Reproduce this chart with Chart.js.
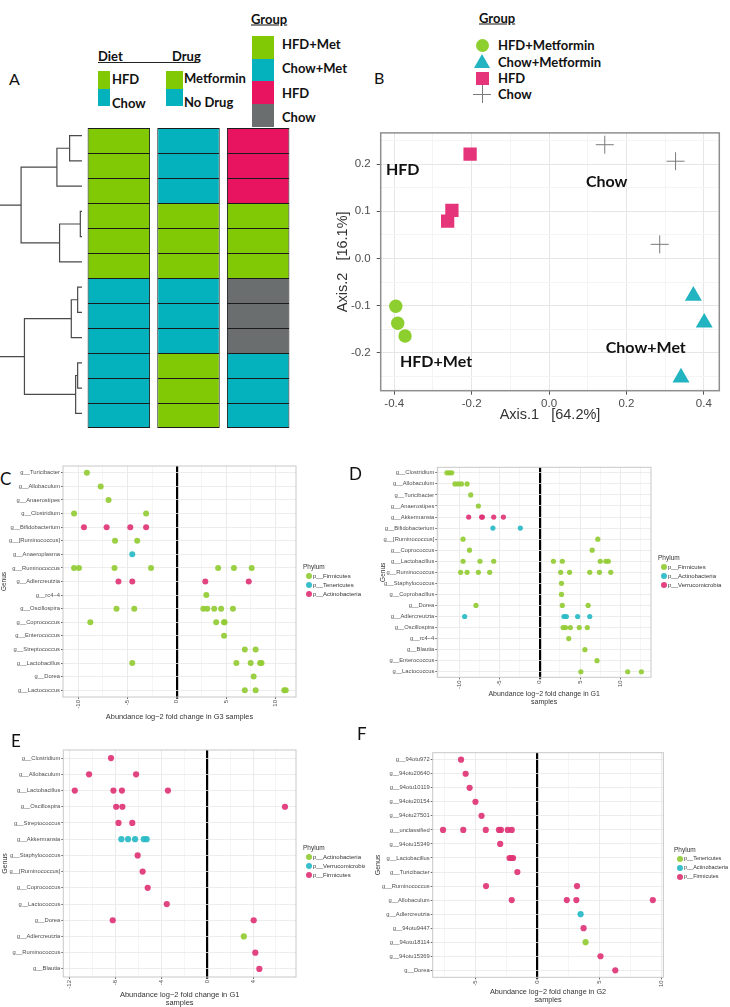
<!DOCTYPE html>
<html>
<head>
<meta charset="utf-8">
<script src="https://cdn.jsdelivr.net/npm/chart.js@4.4.1/dist/chart.umd.min.js"></script>
<style>
  body { margin: 0; background: #fff; }
  #page { position: relative; width: 730px; height: 1007px; overflow: hidden; font-family: Lato, 'Open Sans', sans-serif; color: #111; }
  .t { position: absolute; white-space: nowrap; line-height: 1; transform: translateY(-50%); }
  .sw { position: absolute; }
</style>
</head>
<body>
<div id="page"></div>
<script>
// ---------- panel A : samples, dendrogram ----------
const sampleDiet  = ['HFD','HFD','HFD','HFD','HFD','HFD','Chow','Chow','Chow','Chow','Chow','Chow'];
const sampleDrug  = ['No Drug','No Drug','No Drug','Metformin','Metformin','Metformin','No Drug','No Drug','No Drug','Metformin','Metformin','Metformin'];
const sampleGroup = ['HFD','HFD','HFD','HFD+Met','HFD+Met','HFD+Met','Chow','Chow','Chow','Chow+Met','Chow+Met','Chow+Met'];
const heatColumns = ['Diet', 'Drug', 'Group'];
// hclust style merges: negative = leaf (1 = top row), positive = earlier merge
const dendroMerge = [[-1,-2,37],[1,-3,75],[-4,-5,5],[3,-6,67],[2,4,182],[-7,-8,13],[6,-9,32],[-10,-11,13],[8,-12,19],[7,9,172],[5,10,260]];

const GREEN = '#80c904', CYAN = '#03b2bd', PINK = '#e8145f', GREY = '#6b6e6e';
const dietColor  = { 'HFD': GREEN, 'Chow': CYAN };
const drugColor  = { 'Metformin': GREEN, 'No Drug': CYAN };
const groupColor = { 'HFD+Met': GREEN, 'Chow+Met': CYAN, 'HFD': PINK, 'Chow': GREY };

// ---------- panel B : PCoA ----------
const hfdMetAxis1  = [-0.396, -0.391, -0.372];
const hfdMetAxis2  = [-0.101, -0.137, -0.164];
const chowMetAxis1 = [0.373, 0.401, 0.341];
const chowMetAxis2 = [-0.079, -0.136, -0.252];
const hfdAxis1     = [-0.204, -0.251, -0.262];
const hfdAxis2     = [0.221, 0.102, 0.079];
const chowAxis1    = [0.144, 0.327, 0.286];
const chowAxis2    = [0.241, 0.206, 0.030];
const pcoaGroups   = ['HFD+Metformin', 'Chow+Metformin', 'HFD', 'Chow'];
const pcoaLabelText = ['HFD', 'Chow', 'HFD+Met', 'Chow+Met'];
const pcoaLabelX    = [-0.378, 0.149, -0.292, 0.25];
const pcoaLabelY    = [0.187, 0.163, -0.219, -0.19];

// ---------- panel C : G3 ----------
const genusC = ['g__Turicibacter','g__Allobaculum','g__Anaerostipes','g__Clostridium','g__Bifidobacterium','g__[Ruminococcus]','g__Anaeroplasma','g__Ruminococcus','g__Adlercreutzia','g__rc4−4','g__Oscillospira','g__Coprococcus','g__Enterococcus','g__Streptococcus','g__Lactobacillus','g__Dorea','g__Lactococcus'];
const firmicutesC = [['g__Turicibacter',-9.1],['g__Allobaculum',-7.7],['g__Anaerostipes',-6.9],['g__Clostridium',-10.4],['g__Clostridium',-3.1],
  ['g__[Ruminococcus]',-6.25],['g__[Ruminococcus]',-4.0],
  ['g__Ruminococcus',-10.4],['g__Ruminococcus',-9.9],['g__Ruminococcus',-6.3],['g__Ruminococcus',-2.6],['g__Ruminococcus',4.2],['g__Ruminococcus',5.8],['g__Ruminococcus',7.6],
  ['g__rc4−4',3.0],
  ['g__Oscillospira',-6.1],['g__Oscillospira',-4.3],['g__Oscillospira',2.7],['g__Oscillospira',3.1],['g__Oscillospira',3.8],['g__Oscillospira',4.5],['g__Oscillospira',5.7],
  ['g__Coprococcus',-8.75],['g__Coprococcus',4.0],['g__Coprococcus',4.8],['g__Coprococcus',4.85],
  ['g__Enterococcus',4.8],['g__Streptococcus',6.9],['g__Streptococcus',8.0],
  ['g__Lactobacillus',-4.5],['g__Lactobacillus',6.05],['g__Lactobacillus',7.5],['g__Lactobacillus',8.45],['g__Lactobacillus',8.6],
  ['g__Dorea',7.8],['g__Lactococcus',6.9],['g__Lactococcus',8.0],['g__Lactococcus',10.9],['g__Lactococcus',11.05]];
const tenericutesC = [['g__Anaeroplasma',-4.5]];
const actinobacteriaC = [['g__Bifidobacterium',-9.4],['g__Bifidobacterium',-7.1],['g__Bifidobacterium',-4.7],['g__Bifidobacterium',-3.1],
  ['g__Adlercreutzia',-5.9],['g__Adlercreutzia',-4.5],['g__Adlercreutzia',2.9],['g__Adlercreutzia',7.3]];

// ---------- panel D : G1 ----------
const genusD = ['g__Clostridium','g__Allobaculum','g__Turicibacter','g__Anaerostipes','g__Akkermansia','g__Bifidobacterium','g__[Ruminococcus]','g__Coprococcus','g__Lactobacillus','g__Ruminococcus','g__Staphylococcus','g__Coprobacillus','g__Dorea','g__Adlercreutzia','g__Oscillospira','g__rc4−4','g__Blautia','g__Enterococcus','g__Lactococcus'];
const firmicutesD = [['g__Clostridium',-11.5],['g__Clostridium',-11.2],['g__Clostridium',-10.9],
  ['g__Allobaculum',-10.5],['g__Allobaculum',-10.1],['g__Allobaculum',-9.7],['g__Allobaculum',-9.0],
  ['g__Turicibacter',-8.55],['g__Anaerostipes',-7.6],['g__[Ruminococcus]',-9.5],['g__[Ruminococcus]',7.2],
  ['g__Coprococcus',-8.7],['g__Coprococcus',6.5],
  ['g__Lactobacillus',-9.5],['g__Lactobacillus',-7.4],['g__Lactobacillus',-5.7],['g__Lactobacillus',1.7],['g__Lactobacillus',2.8],['g__Lactobacillus',7.5],['g__Lactobacillus',8.2],['g__Lactobacillus',8.5],
  ['g__Ruminococcus',-9.8],['g__Ruminococcus',-9.0],['g__Ruminococcus',-7.6],['g__Ruminococcus',-6.2],['g__Ruminococcus',2.6],['g__Ruminococcus',3.7],['g__Ruminococcus',6.2],['g__Ruminococcus',7.4],['g__Ruminococcus',8.8],
  ['g__Staphylococcus',2.7],['g__Coprobacillus',2.7],['g__Dorea',-7.9],['g__Dorea',2.8],['g__Dorea',6.0],
  ['g__Oscillospira',2.9],['g__Oscillospira',3.2],['g__Oscillospira',3.8],['g__Oscillospira',4.9],['g__Oscillospira',5.9],
  ['g__rc4−4',3.6],['g__Blautia',5.6],['g__Enterococcus',7.1],['g__Lactococcus',5.1],['g__Lactococcus',10.9],['g__Lactococcus',12.6]];
const actinobacteriaD = [['g__Bifidobacterium',-5.8],['g__Bifidobacterium',-2.4],
  ['g__Adlercreutzia',-9.3],['g__Adlercreutzia',3.0],['g__Adlercreutzia',3.3],['g__Adlercreutzia',4.7],['g__Adlercreutzia',6.2]];
const verrucomicrobiaD = [['g__Akkermansia',-8.8],['g__Akkermansia',-7.2],['g__Akkermansia',-7.1],['g__Akkermansia',-5.7],['g__Akkermansia',-4.5]];

// ---------- panel E : G1 ----------
const genusE = ['g__Clostridium','g__Allobaculum','g__Lactobacillus','g__Oscillospira','g__Streptococcus','g__Akkermansia','g__Staphylococcus','g__[Ruminococcus]','g__Coprococcus','g__Lactococcus','g__Dorea','g__Adlercreutzia','g__Ruminococcus','g__Blautia'];
const actinobacteriaE = [['g__Adlercreutzia',3.2]];
const verrucomicrobiaE = [['g__Akkermansia',-7.45],['g__Akkermansia',-6.87],['g__Akkermansia',-6.26],['g__Akkermansia',-5.5],['g__Akkermansia',-5.25]];
const firmicutesE = [['g__Clostridium',-8.35],['g__Allobaculum',-10.26],['g__Allobaculum',-6.17],
  ['g__Lactobacillus',-11.5],['g__Lactobacillus',-8.14],['g__Lactobacillus',-7.4],['g__Lactobacillus',-3.4],
  ['g__Oscillospira',-7.9],['g__Oscillospira',-7.36],['g__Oscillospira',6.78],['g__Streptococcus',-7.7],['g__Streptococcus',-6.5],
  ['g__Staphylococcus',-6.03],['g__[Ruminococcus]',-5.6],['g__Coprococcus',-5.16],['g__Lactococcus',-3.5],
  ['g__Dorea',-8.2],['g__Dorea',4.06],['g__Ruminococcus',4.2],['g__Blautia',4.55]];

// ---------- panel F : G2 ----------
const genusF = ['g__94otu972','g__94otu20640','g__94otu10119','g__94otu20154','g__94otu27501','g__unclassified','g__94otu15349','g__Lactobacillus','g__Turicibacter','g__Ruminococcus','g__Allobaculum','g__Adlercreutzia','g__94otu9447','g__94otu18114','g__94otu15369','g__Dorea'];
const tenericutesF = [['g__94otu18114',3.87]];
const actinobacteriaF = [['g__Adlercreutzia',3.47]];
const firmicutesF = [['g__94otu972',-6.15],['g__94otu20640',-5.78],['g__94otu10119',-5.46],['g__94otu20154',-4.99],['g__94otu27501',-4.5],
  ['g__unclassified',-7.6],['g__unclassified',-5.97],['g__unclassified',-4.16],['g__unclassified',-3.1],['g__unclassified',-2.94],['g__unclassified',-2.39],['g__unclassified',-2.07],
  ['g__94otu15349',-3.0],['g__Lactobacillus',-2.25],['g__Lactobacillus',-2.1],['g__Lactobacillus',-1.96],['g__Turicibacter',-1.62],
  ['g__Ruminococcus',-4.14],['g__Ruminococcus',3.18],['g__Allobaculum',-2.07],['g__Allobaculum',2.36],['g__Allobaculum',3.13],['g__Allobaculum',9.28],
  ['g__94otu9447',3.71],['g__94otu15369',5.07],['g__Dorea',6.26]];

const DOT_GREEN = 'rgba(146,204,52,0.92)', DOT_CYAN = 'rgba(40,186,198,0.92)', DOT_PINK = 'rgba(224,52,118,0.92)';

// ================= helpers =================
Chart.defaults.font.family = "'Liberation Sans', Arial, sans-serif";
const page = document.getElementById('page');

function makeCanvas(left, top, w, h) {
  const c = document.createElement('canvas');
  c.width = w; c.height = h;
  c.style.cssText = `position:absolute;left:${left}px;top:${top}px;width:${w}px;height:${h}px`;
  page.appendChild(c);
  return c;
}
function addText(text, left, cy, css, parent) {
  const d = document.createElement('div');
  d.className = 't';
  d.textContent = text;
  d.style.left = left + 'px';
  d.style.top = cy + 'px';
  d.style.cssText += css || '';
  (parent || page).appendChild(d);
  return d;
}
function addBox(left, top, w, h, css, parent) {
  const d = document.createElement('div');
  d.className = 'sw';
  d.style.cssText += `left:${left}px;top:${top}px;width:${w}px;height:${h}px;${css}`;
  (parent || page).appendChild(d);
  return d;
}
const isMajor = (v, step) => Math.abs(v / step - Math.round(v / step)) < 1e-6;

const framePlugin = {
  id: 'frame',
  afterDatasetsDraw(chart, args, opts) {
    const { ctx, chartArea: a } = chart;
    ctx.save();
    ctx.strokeStyle = opts.color || '#999';
    ctx.lineWidth = opts.width || 1;
    ctx.strokeRect(a.left, a.top, a.right - a.left, a.bottom - a.top);
    ctx.restore();
  }
};

// ================= panel A =================
addText('A', 9, 79, 'font-size:16px;');

// dendrogram built from merges
function dendroSegments() {
  const nodes = [];
  const pos = id => id < 0 ? { y: -id - 1, h: 0 } : nodes[id - 1];
  return dendroMerge.map(([a, b, h]) => {
    const A = pos(a), B = pos(b);
    nodes.push({ y: (A.y + B.y) / 2, h });
    return [{ x: A.h, y: A.y }, { x: h, y: A.y }, { x: h, y: B.y }, { x: B.h, y: B.y }];
  });
}
new Chart(makeCanvas(0, 123, 82, 303), {
  type: 'scatter',
  data: { datasets: dendroSegments().map(seg => ({ data: seg, showLine: true, pointRadius: 0, borderColor: '#4a4a4a', borderWidth: 1.2 })) },
  options: {
    responsive: false, devicePixelRatio: 1, animation: false,
    layout: { padding: 0 },
    plugins: { legend: { display: false }, tooltip: { enabled: false } },
    scales: {
      x: { type: 'linear', min: 0, max: 245, reverse: true, display: false },
      y: { type: 'linear', min: -0.5, max: 11.5, reverse: true, display: false }
    }
  }
});

// heatmap as stacked bars, one dataset per sample row (25px rows keep the lines crisp)
new Chart(makeCanvas(83, 127, 211, 302), {
  type: 'bar',
  data: {
    labels: heatColumns,
    datasets: sampleDiet.map((d, i) => ({
      data: [1, 1, 1],
      backgroundColor: [dietColor[d], drugColor[sampleDrug[i]], groupColor[sampleGroup[i]]],
      borderColor: '#1b1b1b',
      borderWidth: { top: 1, left: 1, right: 1, bottom: i === sampleDiet.length - 1 ? 1 : 0 },
      borderSkipped: false,
      barPercentage: 0.897, categoryPercentage: 1
    }))
  },
  options: {
    responsive: false, devicePixelRatio: 1, animation: false,
    layout: { padding: 1 },
    plugins: { legend: { display: false }, tooltip: { enabled: false } },
    scales: {
      x: { stacked: true, display: false },
      y: { stacked: true, min: 0, max: sampleDiet.length, reverse: true, display: false }
    }
  }
});

// heatmap legends
const legA = 'font-weight:700;font-size:13px;';
addText('Diet', 98, 56, legA);
addText('Drug', 172, 56, legA);
addBox(98, 62, 101, 1, 'background:#222;');
addText('Group', 251, 19, legA + 'text-decoration:underline;');
const dietLevels = ['HFD', 'Chow'], drugLevels = ['Metformin', 'No Drug'], groupLevels = ['HFD+Met', 'Chow+Met', 'HFD', 'Chow'];
dietLevels.forEach((lv, i) => {
  addBox(98, 71 + i * 17.5, 12, 17.5, 'background:' + dietColor[lv]);
  addText(lv, 112, 79 + i * 24, legA);
});
drugLevels.forEach((lv, i) => {
  addBox(166, 71 + i * 17.5, 17, 17.5, 'background:' + drugColor[lv]);
  addText(lv, 184, 78 + i * 24, legA);
});
groupLevels.forEach((lv, i) => {
  addBox(252, 36 + i * 22.7, 22, 22.7, 'background:' + groupColor[lv]);
  addText(lv, 282, 44 + i * 24.3, legA);
});

// ================= panel B =================
addText('B', 374, 78, 'font-size:16px;');
const labelPlugin = {
  id: 'groupLabels',
  afterDatasetsDraw(chart) {
    const { ctx, scales: { x, y } } = chart;
    ctx.save();
    ctx.font = "bold 16px Lato";
    ctx.fillStyle = '#111';
    ctx.textAlign = 'center';
    ctx.textBaseline = 'middle';
    pcoaLabelText.forEach((t, i) => ctx.fillText(t, x.getPixelForValue(pcoaLabelX[i]), y.getPixelForValue(pcoaLabelY[i])));
    ctx.restore();
  }
};
const zip = (xs, ys) => xs.map((v, i) => ({ x: v, y: ys[i] }));
const fmt1 = v => (Math.abs(v) < 1e-9 ? 0 : v).toFixed(1);
const B_GREEN = '#8ccf2e', B_CYAN = '#22b4c0', B_PINK = '#e5347a', B_GREY = '#7a7a7a';
new Chart(makeCanvas(330, 120, 400, 305), {
  type: 'scatter',
  data: {
    datasets: [
      { label: pcoaGroups[0], data: zip(hfdMetAxis1, hfdMetAxis2), pointStyle: 'circle', pointRadius: 6.7, backgroundColor: B_GREEN, borderWidth: 0 },
      { label: pcoaGroups[1], data: zip(chowMetAxis1, chowMetAxis2), pointStyle: 'triangle', pointRadius: 9.8, backgroundColor: B_CYAN, borderWidth: 0 },
      { label: pcoaGroups[2], data: zip(hfdAxis1, hfdAxis2), pointStyle: 'rect', pointRadius: 9.4, backgroundColor: B_PINK, borderWidth: 0 },
      { label: pcoaGroups[3], data: zip(chowAxis1, chowAxis2), pointStyle: 'cross', pointRadius: 9, borderColor: B_GREY, borderWidth: 1 }
    ]
  },
  options: {
    responsive: false, devicePixelRatio: 1, animation: false,
    layout: { padding: { left: 0, top: 6.7, right: 10.7, bottom: 0 } },
    plugins: { legend: { display: false }, tooltip: { enabled: false }, frame: { color: '#8f8f8f', width: 1.5 } },
    scales: {
      x: {
        type: 'linear', min: -0.435, max: 0.44,
        afterFit: s => { s.height = 34.3; },
        ticks: { stepSize: 0.1, includeBounds: false, autoSkip: false, maxRotation: 0, padding: 2, font: { size: 11.5 }, color: '#4d4d4d',
          callback: v => isMajor(v, 0.2) ? fmt1(v) : '' },
        grid: { color: c => c.tick && isMajor(c.tick.value, 0.2) ? '#e6e6e6' : '#f4f4f4', lineWidth: 1, tickLength: 4,
          tickColor: c => c.tick && isMajor(c.tick.value, 0.2) ? '#555' : 'rgba(0,0,0,0)' },
        border: { display: false },
        title: { display: true, text: 'Axis.1   [64.2%]', font: { size: 14.5 }, color: '#333', padding: { top: 0, bottom: 1.3 } }
      },
      y: {
        type: 'linear', min: -0.28, max: 0.266,
        afterFit: s => { s.width = 50.7; },
        ticks: { stepSize: 0.05, includeBounds: false, autoSkip: false, padding: 6, font: { size: 11.5 }, color: '#4d4d4d',
          callback: v => isMajor(v, 0.1) ? fmt1(v) : '' },
        grid: { color: c => c.tick && isMajor(c.tick.value, 0.1) ? '#e6e6e6' : '#f4f4f4', lineWidth: 1, tickLength: 4,
          tickColor: c => c.tick && isMajor(c.tick.value, 0.1) ? '#555' : 'rgba(0,0,0,0)' },
        border: { display: false },
        title: { display: true, text: 'Axis.2   [16.1%]', font: { size: 14.5 }, color: '#333', padding: { top: 4.3, bottom: 0 } }
      }
    }
  },
  plugins: [framePlugin, labelPlugin]
});

// group legend for B
const legB = 'font-weight:700;font-size:13px;';
addText('Group', 479, 18, legB + 'text-decoration:underline;');
const legBY = [45, 62, 78, 94];
addBox(482 - 6.5, legBY[0] - 6.5, 13, 13, 'background:' + B_GREEN + ';border-radius:50%;');
addBox(482 - 8.5, legBY[1] - 8, 0, 0, 'border-left:8.5px solid transparent;border-right:8.5px solid transparent;border-bottom:14.5px solid ' + B_CYAN + ';');
addBox(482 - 6.5, legBY[2] - 6.5, 13, 13, 'background:' + B_PINK + ';');
addBox(482 - 9, legBY[3], 18, 1, 'background:' + B_GREY + ';');
addBox(482, legBY[3] - 9, 1, 18, 'background:' + B_GREY + ';');
pcoaGroups.forEach((g, i) => addText(g, 498, legBY[i], legB));

// ================= panels C–F =================
function dotPanel(p) {
  const [l, t, r, b] = p.plot;
  const yW = l - p.cl, pt = t - p.ct, pr = p.cl + p.cw - r, xH = p.ct + p.ch - b;
  new Chart(makeCanvas(p.cl, p.ct, p.cw, p.ch), {
    type: 'scatter',
    data: {
      datasets: p.series.map(s => ({
        label: s.name,
        data: s.points.map(([g, v]) => ({ x: v, y: g })),
        backgroundColor: s.color, pointRadius: p.r, borderWidth: 0
      }))
    },
    options: {
      responsive: false, devicePixelRatio: 1, animation: false,
      layout: { padding: { left: 0, top: pt, right: pr, bottom: 0 } },
      plugins: { legend: { display: false }, tooltip: { enabled: false }, frame: { color: '#c8c8c8', width: 1 } },
      scales: {
        x: {
          type: 'linear', min: p.xMin, max: p.xMax,
          afterFit: s => { s.height = xH; },
          ticks: { stepSize: p.minor, includeBounds: false, autoSkip: false, maxTicksLimit: 100, minRotation: 90, maxRotation: 90, padding: 1,
            font: { size: 6 }, color: '#4d4d4d', callback: v => isMajor(v, p.major) ? String(Math.round(v)) : '' },
          grid: {
            color: c => !c.tick ? '#eee' : (c.tick.value === 0 ? '#000' : (isMajor(c.tick.value, p.major) ? '#e6e6e6' : '#f3f3f3')),
            lineWidth: c => c.tick && c.tick.value === 0 ? 2.2 : 0.8,
            tickLength: 2,
            tickColor: c => c.tick && isMajor(c.tick.value, p.major) ? '#444' : 'rgba(0,0,0,0)'
          },
          border: { display: false },
          title: { display: true, text: p.title, font: { size: p.titleSize, lineHeight: 1.1 }, color: '#333', padding: { top: 0, bottom: 1 } }
        },
        y: {
          type: 'category', labels: p.genus, offset: true,
          afterFit: s => { s.width = yW; },
          ticks: { autoSkip: false, padding: 1, font: { size: 5.8 }, color: '#4d4d4d' },
          grid: { offset: false, color: '#e9e9e9', lineWidth: 0.8, tickLength: 2, tickColor: '#444' },
          border: { display: false },
          title: { display: true, text: 'Genus', font: { size: p.genusSize }, color: '#333', padding: { top: p.genusPad, bottom: 0 } }
        }
      }
    },
    plugins: [framePlugin]
  });

  // phylum legend
  const box = document.createElement('div');
  box.style.cssText = `position:absolute;left:0;top:0;width:${p.legClip}px;height:1007px;overflow:hidden;font-family:'Liberation Sans',Arial,sans-serif;color:#333;`;
  page.appendChild(box);
  addText('Phylum', p.leg.x, p.leg.y, 'font-size:6.5px;', box);
  p.series.forEach((s, i) => {
    const cy = p.leg.y + 9 * (i + 1);
    addBox(p.leg.x + 2.5, cy - 3, 6, 6, 'background:' + s.color + ';border-radius:50%;', box);
    addText(s.name, p.leg.x + 10, cy, `font-size:${p.legSize}px;`, box);
  });
}

addText('C', 0, 478, 'font-size:17px;');
dotPanel({
  cl: 0, ct: 460, cw: 300, ch: 262, plot: [63, 466, 296, 697],
  xMin: -11.52, xMax: 12.09, minor: 2.5, major: 5, r: 3,
  genus: genusC, title: 'Abundance log−2 fold change in G3 samples', titleSize: 7.4, genusSize: 6.5, genusPad: 0,
  series: [{ name: 'p__Firmicutes', color: DOT_GREEN, points: firmicutesC },
           { name: 'p__Tenericutes', color: DOT_CYAN, points: tenericutesC },
           { name: 'p__Actinobacteria', color: DOT_PINK, points: actinobacteriaC }],
  leg: { x: 303, y: 567 }, legClip: 365, legSize: 6
});

addText('D', 349, 473, 'font-size:17px;');
dotPanel({
  cl: 365, ct: 461, cw: 290, ch: 246, plot: [437.3, 467.3, 651, 677.3],
  xMin: -12.69, xMax: 13.79, minor: 2.5, major: 5, r: 2.6,
  genus: genusD, title: ['Abundance log−2 fold change in G1', 'samples'], titleSize: 7, genusSize: 6.5, genusPad: 14,
  series: [{ name: 'p__Firmicutes', color: DOT_GREEN, points: firmicutesD },
           { name: 'p__Actinobacteria', color: DOT_CYAN, points: actinobacteriaD },
           { name: 'p__Verrucomicrobia', color: DOT_PINK, points: verrucomicrobiaD }],
  leg: { x: 658, y: 558 }, legClip: 730, legSize: 6
});

addText('E', 11, 740, 'font-size:17px;');
dotPanel({
  cl: 0, ct: 744, cw: 300, ch: 264, plot: [63.3, 750, 296, 977],
  xMin: -12.5, xMax: 7.74, minor: 2, major: 4, r: 3.1,
  genus: genusE, title: ['Abundance log−2 fold change in G1', 'samples'], titleSize: 7.5, genusSize: 7, genusPad: 1,
  series: [{ name: 'p__Actinobacteria', color: DOT_GREEN, points: actinobacteriaE },
           { name: 'p__Verrucomicrobia', color: DOT_CYAN, points: verrucomicrobiaE },
           { name: 'p__Firmicutes', color: DOT_PINK, points: firmicutesE }],
  leg: { x: 303, y: 848 }, legClip: 365, legSize: 6
});

addText('F', 357, 733, 'font-size:17px;');
dotPanel({
  cl: 365, ct: 746, cw: 305, ch: 259, plot: [432.7, 752.7, 666, 977.3],
  xMin: -8.43, xMax: 10.13, minor: 2.5, major: 5, r: 3.1,
  genus: genusF, title: ['Abundance log−2 fold change in G2', 'samples'], titleSize: 7.3, genusSize: 7, genusPad: 9,
  series: [{ name: 'p__Tenericutes', color: DOT_GREEN, points: tenericutesF },
           { name: 'p__Actinobacteria', color: DOT_CYAN, points: actinobacteriaF },
           { name: 'p__Firmicutes', color: DOT_PINK, points: firmicutesF }],
  leg: { x: 674, y: 850 }, legClip: 730, legSize: 5.5
});
</script>
</body>
</html>
